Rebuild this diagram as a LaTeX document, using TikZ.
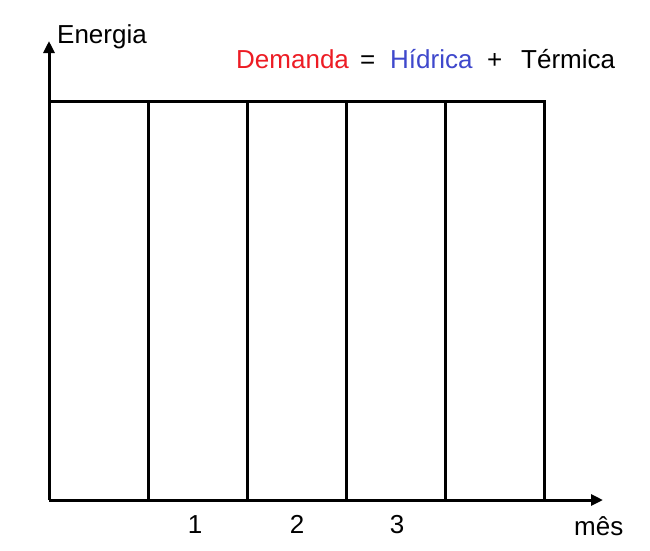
\documentclass[tikz,border=0pt]{standalone}
\usepackage{fontspec}
\setmainfont{Liberation Sans}
\usetikzlibrary{arrows.meta}
\definecolor{dred}{RGB}{237,28,36}
\definecolor{hblue}{RGB}{63,72,204}
\begin{document}
\begin{tikzpicture}[x=1pt,y=-1pt,
  lbl/.style={inner sep=0pt,anchor=base west,font=\fontsize{26}{30}\selectfont},
  num/.style={inner sep=0pt,anchor=base,font=\fontsize{26}{30}\selectfont},
  axis/.style={line width=3pt,-{Triangle[width=11pt,length=12pt]}},
  grid/.style={line width=3pt,line cap=rect}]
\useasboundingbox (0,0) rectangle (650,550);
\fill[white] (0,0) rectangle (650,550);
\coordinate (O) at (49,500);
\coordinate (Ytip) at (49,41);
\coordinate (Xtip) at (603,500);
\coordinate (TL) at (49,101);
\coordinate (TR) at (544,101);
\coordinate (BR) at (544,500);
\foreach \x [count=\i] in {148,247,346,445} {
  \coordinate (t\i) at (\x,101);
  \coordinate (b\i) at (\x,500);
}
\draw[grid] (TL) -- (TR) -- (BR);
\foreach \i in {1,...,4} \draw[grid] (t\i) -- (b\i);
\draw[axis] (O) -- (Ytip);
\draw[axis] (O) -- (Xtip);
\node[lbl] (energia) at (57,43) {Energia};
\node[lbl,text=dred] (demanda) at (236,68) {Demanda};
\node[lbl] (eq) at (360,68) {=};
\node[lbl,text=hblue] (hidrica) at (390,68) {Hídrica};
\node[lbl] (plus) at (487,68) {+};
\node[lbl] (termica) at (521,68) {Térmica};
\node[num] (n1) at (195,533) {1};
\node[num] (n2) at (297,533) {2};
\node[num] (n3) at (397,533) {3};
\node[lbl] (mes) at (574,535) {mês};
\end{tikzpicture}
\end{document}
